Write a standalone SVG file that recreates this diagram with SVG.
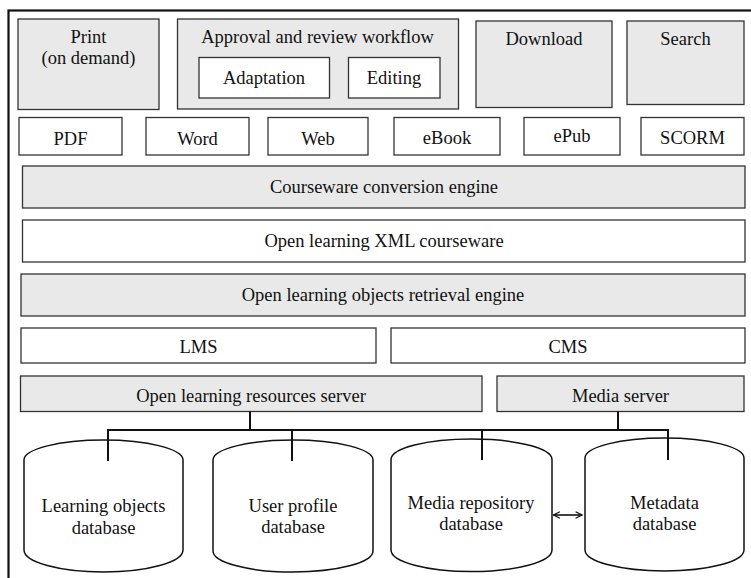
<svg xmlns="http://www.w3.org/2000/svg" width="751" height="578" viewBox="0 0 751 578">
<style>
.g{fill:#e9e9e9;stroke:#333;stroke-width:1.3}
.w{fill:#fff;stroke:#333;stroke-width:1.3}
.cyl{fill:#fff;stroke:#111;stroke-width:1.5}
text{font-family:'Liberation Serif','DejaVu Serif',serif;font-size:18.5px;fill:#111;text-anchor:middle}
.c{fill:none;stroke:#111;stroke-width:2}
</style>
<defs>
<marker id="ah" viewBox="0 0 10 10" refX="9" refY="5" markerWidth="8" markerHeight="8" markerUnits="userSpaceOnUse" orient="auto-start-reverse">
<path d="M1,1 L9,5 L1,9" fill="none" stroke="#111" stroke-width="1.6"/>
</marker>
</defs>
<rect x="8.5" y="10.5" width="800" height="620" fill="none" stroke="#111" stroke-width="2.2"/>

<g id="print"><rect class="g" x="18" y="19" width="141" height="90.5"/><text x="88.5" y="43">Print</text><text x="88.5" y="64">(on demand)</text></g>
<g id="approval"><rect class="g" x="177.5" y="19" width="281" height="90"/><text x="317.5" y="43">Approval and review workflow</text></g>
<g id="adaptation"><rect class="w" x="199" y="57.5" width="130.5" height="40.5"/><text x="264" y="84">Adaptation</text></g>
<g id="editing"><rect class="w" x="348.5" y="57.5" width="91.5" height="40.5"/><text x="394" y="84">Editing</text></g>
<g id="download"><rect class="g" x="476" y="21" width="136" height="86.5"/><text x="544" y="45">Download</text></g>
<g id="search"><rect class="g" x="627" y="21" width="117" height="83.5"/><text x="685.5" y="45">Search</text></g>

<g id="pdf"><rect class="w" x="19" y="117.5" width="103" height="37.5"/><text x="70.5" y="145">PDF</text></g>
<g id="word"><rect class="w" x="146" y="117.5" width="103" height="37.5"/><text x="197.5" y="145">Word</text></g>
<g id="web"><rect class="w" x="268" y="117.5" width="100" height="37.5"/><text x="318" y="145">Web</text></g>
<g id="ebook"><rect class="w" x="394" y="117.5" width="106" height="37.5"/><text x="447" y="144">eBook</text></g>
<g id="epub"><rect class="w" x="524" y="117.5" width="96" height="37.5"/><text x="572" y="142">ePub</text></g>
<g id="scorm"><rect class="w" x="641" y="117.5" width="103" height="37.5"/><text x="692.5" y="143.5">SCORM</text></g>

<g id="conversion"><rect class="g" x="22.5" y="166" width="722.5" height="42"/><text x="384" y="193">Courseware conversion engine</text></g>
<g id="xml"><rect class="w" x="22.5" y="220" width="722.5" height="42"/><text x="384" y="247">Open learning XML courseware</text></g>
<g id="retrieval"><rect class="g" x="21" y="274" width="724" height="42"/><text x="383" y="301">Open learning objects retrieval engine</text></g>
<g id="lms"><rect class="w" x="21" y="328" width="355" height="35"/><text x="198.5" y="353">LMS</text></g>
<g id="cms"><rect class="w" x="391" y="328" width="354" height="35"/><text x="568" y="353">CMS</text></g>
<g id="olrs"><rect class="g" x="20.5" y="376" width="461.5" height="35.5"/><text x="251" y="402">Open learning resources server</text></g>
<g id="media"><rect class="g" x="497" y="376" width="247" height="35.5"/><text x="620.5" y="402">Media server</text></g>

<g id="lodb"><path class="cyl" d="M24,460 A79.5,20 0 0 1 183,460 L183,550 A79.5,22 0 0 1 24,550 Z"/><text x="103.5" y="512">Learning objects</text><text x="103.5" y="533.5">database</text></g>
<g id="updb"><path class="cyl" d="M213,460 A80,20 0 0 1 373,460 L373,551 A80,21 0 0 1 213,551 Z"/><text x="293" y="512">User profile</text><text x="293" y="533">database</text></g>
<g id="mrdb"><path class="cyl" d="M391,459.5 A80.5,20.5 0 0 1 552,459.5 L552,550 A80.5,21.5 0 0 1 391,550 Z"/><text x="471" y="509">Media repository</text><text x="471" y="529.5">database</text></g>
<g id="mddb"><path class="cyl" d="M585,458 A79.5,20 0 0 1 744,458 L744,550 A79.5,21 0 0 1 585,550 Z"/><text x="664.5" y="509">Metadata</text><text x="664.5" y="529.5">database</text></g>

<g id="connectors">
<path class="c" d="M250,411.5 V430 M618,411.5 V430 M108,461 V430 H668 V460 M292,461 V430 M482,460 V430"/>
<line x1="553.5" y1="515" x2="582" y2="515" stroke="#111" stroke-width="1.6" marker-start="url(#ah)" marker-end="url(#ah)"/>
</g>
</svg>
